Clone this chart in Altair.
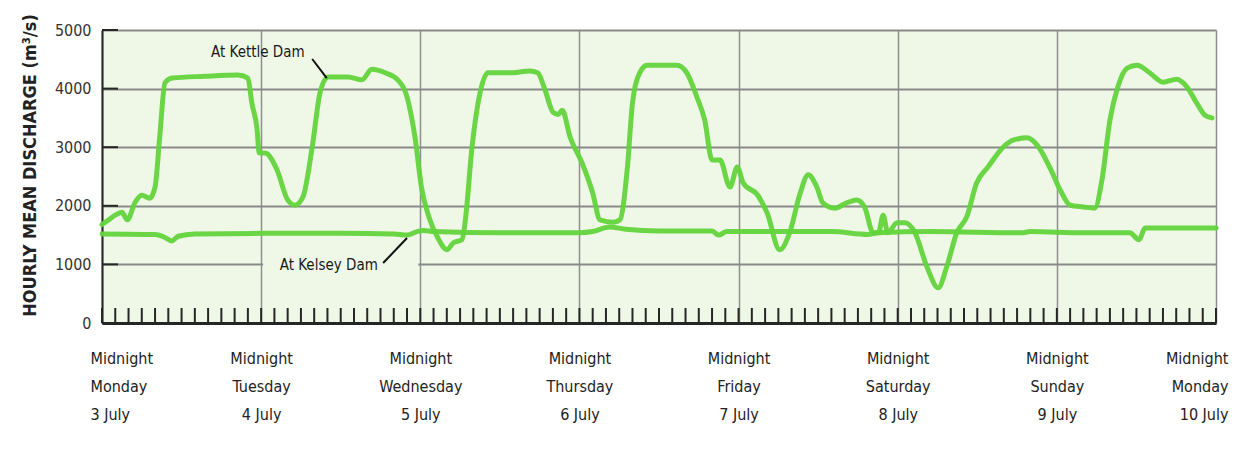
import json
import altair as alt
import pandas as pd

# ---------------- data ----------------
kettle_hours = [0, 1, 2, 3, 3.8, 5, 6, 7.2, 8, 8.7, 9.5, 10.6, 15.5, 20.5, 22, 22.6, 23.4, 23.7,
                24.6, 26.4, 28, 29.1, 30.3, 31.7, 32.9, 34.1, 37.1, 39.2, 40.7, 42.7, 44.6, 46,
                47.2, 48.2, 49.3, 50.8, 52, 53, 54.3, 54.8, 55.8, 57, 58.2, 61.5, 64.5, 65.7,
                66.8, 68, 68.8, 69.4, 70.6, 72.4, 74, 75.1, 77.1, 78.1, 79.2, 80, 81.1, 82.2,
                86.7, 88.2, 89.7, 90.9, 92, 93.2, 94.7, 95.8, 96.7, 98.9, 100.3, 102.2, 103.7,
                105.3, 106.5, 107.8, 108.7, 110.5, 112.3, 113.8, 115, 116.3, 117.1, 117.8, 118.5,
                119.9, 121.1, 122.6, 124.4, 126.1, 127.4, 128.9, 130.4, 131.9, 133.6, 135.9,
                137.4, 139.5, 141, 143, 144.5, 146, 148, 149.7, 150.8, 152, 153.2, 154.6, 156.1,
                158, 160, 162.1, 163.6, 165.1, 166.3, 167.4]
kettle_flow = [1680, 1760, 1840, 1890, 1760, 2060, 2180, 2130, 2320, 3170, 4100, 4180, 4210, 4230,
               4180, 3750, 3290, 2900, 2900, 2610, 2100, 2010, 2150, 3000, 3940, 4200, 4200, 4150,
               4330, 4270, 4150, 3860, 3170, 2300, 1810, 1420, 1250, 1370, 1420, 1760, 3000, 3920,
               4270, 4270, 4300, 4270, 3980, 3600, 3560, 3630, 3170, 2730, 2220, 1760, 1720, 1760,
               2610, 3750, 4270, 4400, 4400, 4270, 3860, 3460, 2780, 2780, 2320, 2660, 2390, 2180,
               1880, 1250, 1540, 2220, 2530, 2320, 2050, 1960, 2050, 2100, 1980, 1540, 1540, 1840,
               1540, 1710, 1710, 1540, 960, 600, 960, 1540, 1810, 2390, 2660, 3000, 3120, 3160,
               3040, 2640, 2270, 2010, 1980, 1960, 2440, 3460, 4030, 4350, 4400, 4270, 4110, 4160,
               4030, 3750, 3550, 3500]

kelsey_hours = [0, 8, 9.5, 10.5, 11.5, 14, 24, 36, 44, 46, 47.5, 48.5, 50, 60, 72, 74, 76.5, 79,
                84, 92, 93, 94.2, 100, 110, 115.5, 117, 125, 138.6, 140, 148, 155, 156.4, 157.3, 168]
kelsey_flow = [1520, 1510, 1460, 1400, 1480, 1520, 1530, 1530, 1520, 1500, 1560, 1580, 1560, 1540,
               1540, 1560, 1640, 1600, 1570, 1570, 1500, 1560, 1560, 1560, 1510, 1540, 1560, 1540,
               1560, 1540, 1540, 1420, 1620, 1620]

midnight_hours = [0, 24, 48, 72, 96, 120, 144, 168]
day_names = ["Monday", "Tuesday", "Wednesday", "Thursday", "Friday", "Saturday", "Sunday", "Monday"]
day_dates = ["3 July", "4 July", "5 July", "6 July", "7 July", "8 July", "9 July", "10 July"]
y_values = [0, 1000, 2000, 3000, 4000, 5000]
minor_tick_hours = [0, 2, 4, 6, 8, 10, 12, 14, 16, 18, 20, 22, 24, 26, 28, 30, 32, 34, 36, 38, 40,
                    42, 44, 46, 48, 50, 52, 54, 56, 58, 60, 62, 64, 66, 68, 70, 72, 74, 76, 78, 80,
                    82, 84, 86, 88, 90, 92, 94, 96, 98, 100, 102, 104, 106, 108, 110, 112, 114, 116,
                    118, 120, 122, 124, 126, 128, 130, 132, 134, 136, 138, 140, 142, 144, 146, 148,
                    150, 152, 154, 156, 158, 160, 162, 164, 166, 168]

ann_labels = ["At Kettle Dam", "At Kelsey Dam"]
ann_hours = [23.5, 34.2]
ann_flow = [4625, 990]
leader_h1 = [31.7, 42.4]
leader_v1 = [4505, 1024]
leader_h2 = [33.9, 46.0]
leader_v2 = [4180, 1450]

# ---------------- styling ----------------
BG = "#eff8e7"
LINE = "#62d43c"
FONT = "DejaVu Sans Condensed, Liberation Sans, sans-serif"
W, H = 1114, 293

df = pd.concat([
    pd.DataFrame({"hour": kettle_hours, "flow": kettle_flow, "series": "Kettle"}),
    pd.DataFrame({"hour": kelsey_hours, "flow": kelsey_flow, "series": "Kelsey"}),
])
ticks_df = pd.DataFrame({"hour": minor_tick_hours})
yt_df = pd.DataFrame({"flow": y_values})
ann_df = pd.DataFrame({"hour": ann_hours, "flow": ann_flow, "label": ann_labels})
lead_df = pd.DataFrame({"h1": leader_h1, "v1": leader_v1, "h2": leader_h2, "v2": leader_v2})
gap_df = pd.DataFrame({"h1": [24.3], "h2": [47.7], "v": [1000]})

x_scale = alt.Scale(domain=[0, 168], nice=False, zero=False)
y_scale = alt.Scale(domain=[0, 5000], nice=False)

label_expr = ("['Midnight', " + json.dumps(day_names) + "[datum.value / 24], "
              + json.dumps(day_dates) + "[datum.value / 24]]")

x_axis = alt.Axis(values=midnight_hours, grid=True, gridColor="#8f8f8f", gridWidth=1.5,
                  domain=True, domainColor="#262626", domainWidth=3, ticks=False,
                  labelExpr=label_expr, labelFont=FONT, labelFontSize=16, labelLineHeight=28,
                  labelPadding=27, labelBaseline="top", labelColor="#222222",
                  labelFlush=True, labelFlushOffset=12, title=None)
y_axis = alt.Axis(values=y_values, format="d", grid=True, gridColor="#8a8a8a", gridWidth=2,
                  domain=True, domainColor="#262626", domainWidth=2, ticks=False,
                  labelFont=FONT, labelFontSize=16, labelPadding=11, labelColor="#333333",
                  title="HOURLY MEAN DISCHARGE (m³/s)", titleFont=FONT, titleFontSize=18,
                  titleFontWeight="bold", titleColor="#222222", titleX=-72, titleY=135,
                  titleAngle=270, titleBaseline="middle", titleAlign="center")

gap = alt.Chart(gap_df).mark_rule(color=BG, strokeWidth=3).encode(
    x=alt.X("h1:Q", scale=x_scale), x2="h2:Q", y=alt.Y("v:Q", scale=y_scale))

lines = alt.Chart(df).mark_line(color=LINE, strokeWidth=5, strokeCap="round",
                                strokeJoin="round", interpolate="monotone", opacity=0.95).encode(
    x=alt.X("hour:Q", scale=x_scale, axis=x_axis),
    y=alt.Y("flow:Q", scale=y_scale, axis=y_axis),
    detail="series:N",
)

minor = alt.Chart(ticks_df).mark_rule(color="#262626", strokeWidth=2).encode(
    x=alt.X("hour:Q", scale=x_scale), y=alt.value(H), y2=alt.value(H - 15))

yticks = alt.Chart(yt_df).mark_rule(color="#262626", strokeWidth=2).encode(
    y=alt.Y("flow:Q", scale=y_scale), x=alt.value(0), x2=alt.value(16))

leaders = alt.Chart(lead_df).mark_rule(color="#111111", strokeWidth=2).encode(
    x=alt.X("h1:Q", scale=x_scale), x2="h2:Q",
    y=alt.Y("v1:Q", scale=y_scale), y2="v2:Q")

texts = alt.Chart(ann_df).mark_text(font=FONT, fontSize=15, color="#1a1a1a",
                                    align="center", baseline="middle").encode(
    x=alt.X("hour:Q", scale=x_scale), y=alt.Y("flow:Q", scale=y_scale), text="label:N")

chart = alt.layer(gap, lines, minor, yticks, leaders, texts).properties(
    width=W, height=H,
    autosize=alt.AutoSizeParams(type="none"),
    padding={"left": 94, "top": 22, "right": 15, "bottom": 115},
    background="white",
).configure_view(fill=BG, stroke=None)

chart.save("out.html", embed_options={"renderer": "svg", "actions": False})
